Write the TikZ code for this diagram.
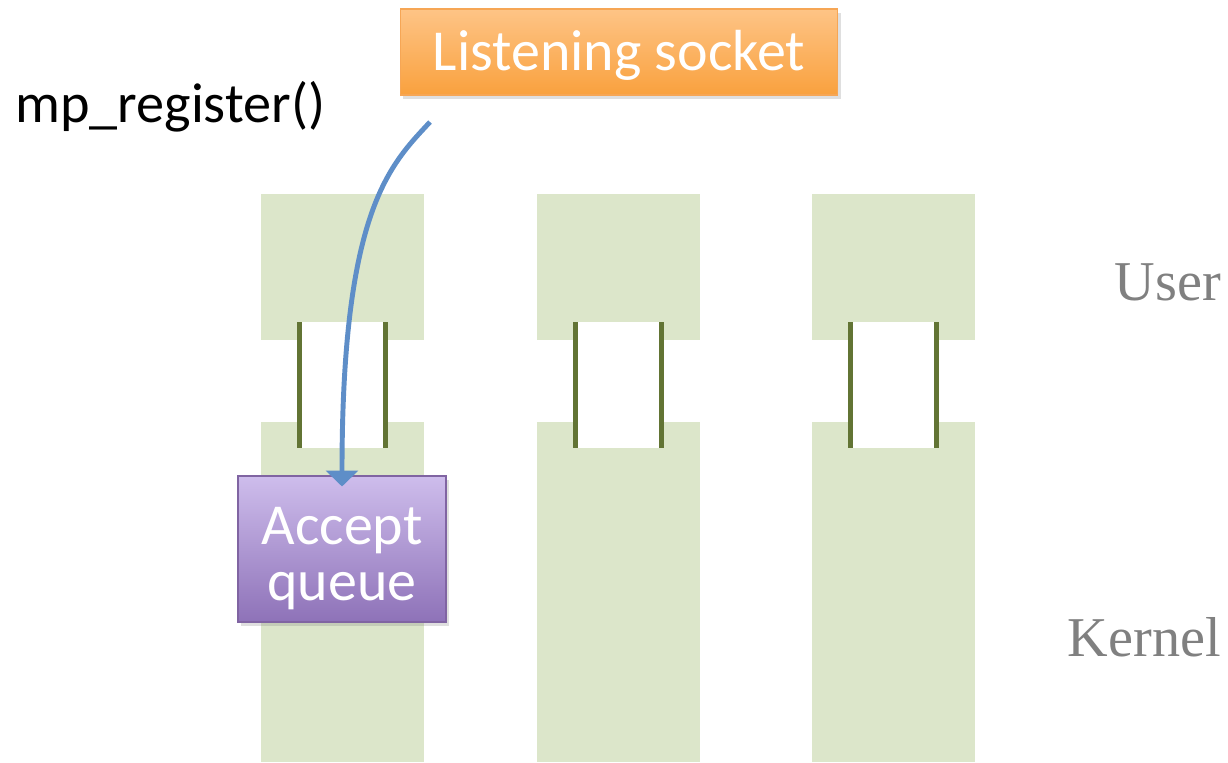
\documentclass[tikz,border=0pt]{standalone}
\usepackage{fontspec}
\setmainfont{Carlito}
\newfontfamily\layerfont{Liberation Serif}
\usetikzlibrary{positioning,arrows.meta,shadows}
\definecolor{laneg}{RGB}{220,230,202}
\definecolor{barg}{RGB}{98,116,52}
\definecolor{flowc}{RGB}{94,142,200}

\begin{document}
\begin{tikzpicture}[x=0.02cm,y=0.02cm]
\useasboundingbox (0,0) rectangle (1228,-762);
\tikzstyle{sock}=[draw=orange!80!brown!70, line width=0.6pt, top color={rgb,255:red,254;green,196;blue,134},
  bottom color={rgb,255:red,249;green,161;blue,62}, text=white, minimum width=8.76cm, minimum height=1.72cm,
  font=\fontsize{33}{32}\selectfont, drop shadow={shadow xshift=1.5pt, shadow yshift=-2.5pt, opacity=0.25}];
\tikzstyle{queue}=[sock, draw={rgb,255:red,128;green,100;blue,162}, top color={rgb,255:red,206;green,189;blue,236},
  bottom color={rgb,255:red,142;green,114;blue,184}, minimum width=4.16cm, minimum height=2.92cm, align=center];
\tikzstyle{layer}=[anchor=base east, text=gray, font=\layerfont\fontsize{32}{32}\selectfont];
\tikzstyle{flow}=[flowc, line width=2.8pt, -{Triangle[width=0.64cm,length=0.32cm]}];

% three lanes, user part on top, kernel part below, syscall gap between
\foreach \x in {261,537,812}{
  \fill[laneg] (\x,-194) rectangle +(163,-146);
  \fill[laneg] (\x,-422) rectangle +(163,-340);
  \fill[white] (\x+38,-322) rectangle +(87,-126);
  \fill[barg] (\x+36,-322) rectangle +(5,-126);
  \fill[barg] (\x+122,-322) rectangle +(5,-126);
}

\node[sock] (lsock) at (619,-52) {\rule{0pt}{27pt}Listening socket};
\node[anchor=base west, font=\fontsize{32}{32}\selectfont] (reg) at (9,-122) {mp\_register()};
\node[queue] (accq) at (342,-549) {\rule{0pt}{32pt}Accept\\queue};

\node[layer] (user) at (1227,-300) {User};
\node[layer] (kern) at (1227,-656) {Kernel};

\coordinate (tail) at (430,-122);
\draw[flow] (tail) .. controls (390,-165) and (342,-210) .. ([yshift=-11*0.02cm]accq.north);
\end{tikzpicture}
\end{document}
